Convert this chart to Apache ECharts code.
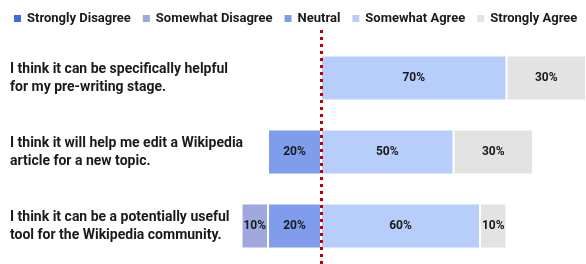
<!DOCTYPE html>
<html>
<head>
<meta charset="utf-8">
<script src="https://cdn.jsdelivr.net/npm/echarts@6/dist/echarts.min.js"></script>
<style>
  html, body { margin: 0; padding: 0; background: #fff; }
  #main { width: 586px; height: 264px; }
</style>
</head>
<body>
<div id="main"></div>
<script>
    var statements = [
        'I think it can be specifically helpful\nfor my pre-writing stage.',
        'I think it will help me edit a Wikipedia\narticle for a new topic.',
        'I think it can be a potentially useful\ntool for the Wikipedia community.'
    ];
    var stronglyDisagree = [0, 0, 0];
    var somewhatDisagree = [0, 0, 10];
    var neutral = [0, 20, 20];
    var somewhatAgree = [70, 50, 60];
    var stronglyAgree = [30, 30, 10];

    var font = 'Roboto, "Liberation Sans", sans-serif';

    // disagree side is drawn to the left of zero
    function neg(arr) {
        return arr.map(function (v) { return -v; });
    }

    function makeSeries(name, data, color) {
        return {
            name: name,
            type: 'bar',
            stack: 'all',
            barWidth: 45,
            data: data,
            itemStyle: { color: color, borderColor: '#fff', borderWidth: 1 },
            label: {
                show: true,
                fontFamily: font,
                fontWeight: 'bold',
                fontSize: 12,
                color: '#1a1a1a',
                formatter: function (p) {
                    return p.value === 0 ? '' : Math.abs(p.value) + '%';
                }
            }
        };
    }

    var myChart = echarts.init(document.getElementById('main'));
    var option = {
        animation: false,
        legend: {
            left: 12,
            top: 12,
            width: 574,
            padding: 0,
            itemWidth: 9,
            itemHeight: 9,
            itemGap: 10,
            icon: 'rect',
            textStyle: { fontFamily: font, fontWeight: 'bold', fontSize: 13, color: '#1a1a1a' },
            data: ['Strongly Disagree', 'Somewhat Disagree', 'Neutral', 'Somewhat Agree', 'Strongly Agree']
        },
        grid: [
            { left: 56, right: -2, top: 41, bottom: 1 },
            { left: 56, right: -2, top: 28, bottom: 0 }
        ],
        xAxis: [
            { type: 'value', gridIndex: 0, min: -100, max: 100, show: false },
            { type: 'value', gridIndex: 1, min: -100, max: 100, show: false }
        ],
        yAxis: [
            {
                type: 'category',
                gridIndex: 0,
                inverse: true,
                data: statements,
                axisLine: { show: false },
                axisTick: { show: false },
                axisLabel: {
                    align: 'left',
                    margin: 46,
                    fontFamily: font,
                    fontWeight: 'bold',
                    fontSize: 14,
                    lineHeight: 18,
                    color: '#1a1a1a'
                }
            },
            {
                // red dotted reference line at zero
                type: 'value',
                gridIndex: 1,
                min: 0,
                max: 1,
                z: 10,
                axisLine: {
                    show: true,
                    onZero: true,
                    lineStyle: { color: '#c00000', width: 3, type: [3, 4], cap: 'butt' }
                },
                axisTick: { show: false },
                axisLabel: { show: false },
                splitLine: { show: false }
            }
        ],
        series: [
            makeSeries('Neutral', neg(neutral), '#7f9dec'),
            makeSeries('Somewhat Disagree', neg(somewhatDisagree), '#a0a8de'),
            makeSeries('Strongly Disagree', neg(stronglyDisagree), '#4169e1'),
            makeSeries('Somewhat Agree', somewhatAgree, '#b7cefb'),
            makeSeries('Strongly Agree', stronglyAgree, '#e3e3e3')
        ]
    };
    myChart.setOption(option);
</script>
</body>
</html>
